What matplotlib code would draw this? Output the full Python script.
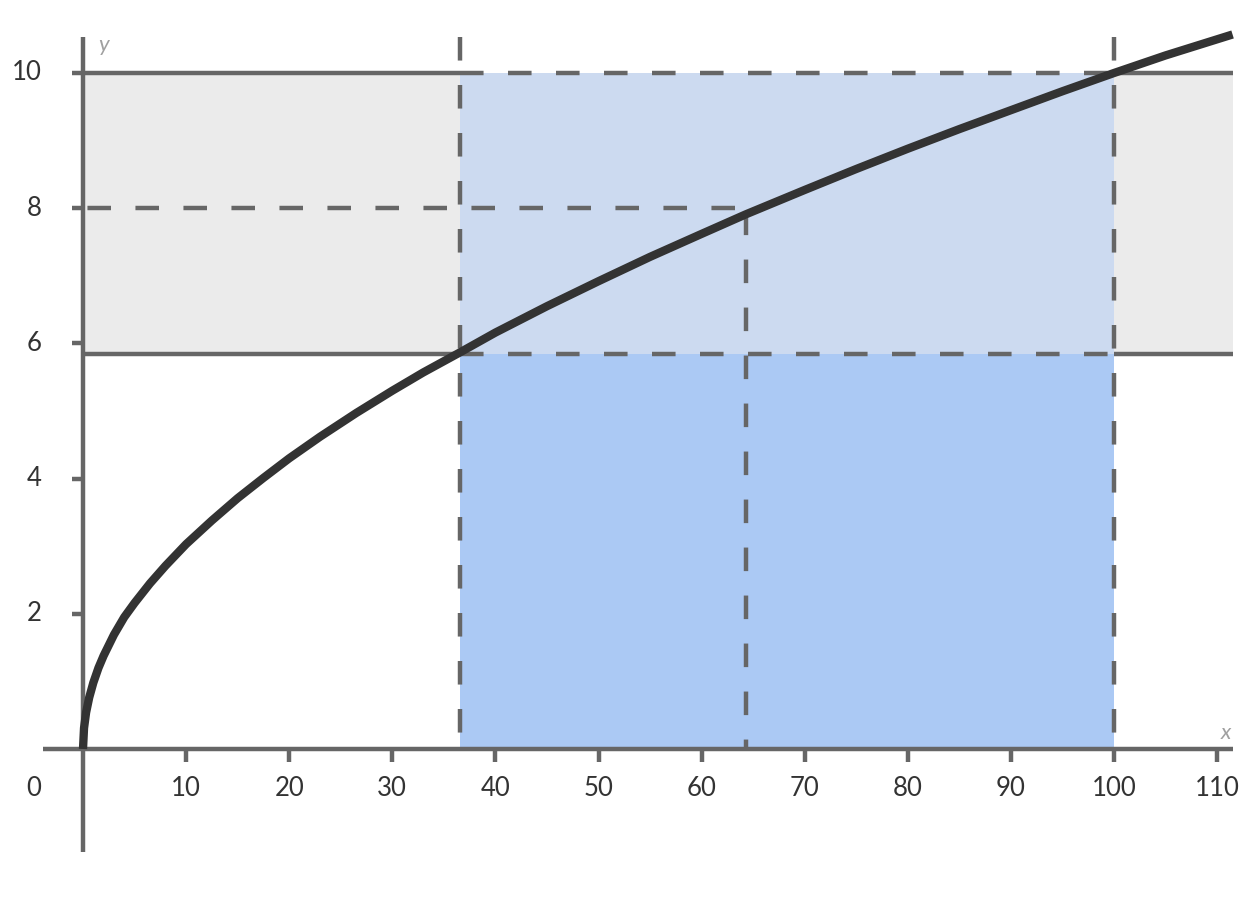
import matplotlib
matplotlib.use("Agg")
import matplotlib.pyplot as plt

# ---- data ----
curve_x = [0, 0.1, 0.3, 0.6, 1, 1.5, 2, 3, 4, 5, 6.5, 8, 10, 12.5, 15, 17.5, 20, 23, 26.5,
           30, 33, 36.6, 40, 45, 50, 55, 60, 64.3, 70, 75, 80, 85, 90, 95, 100, 105, 111.5]
curve_y = [0, 0.31, 0.54, 0.76, 0.98, 1.2, 1.38, 1.69, 1.95, 2.16, 2.45, 2.71, 3.03, 3.38,
           3.71, 4.01, 4.30, 4.62, 4.97, 5.30, 5.57, 5.87, 6.16, 6.55, 6.92, 7.28, 7.62, 7.91,
           8.27, 8.58, 8.88, 9.17, 9.45, 9.73, 10.0, 10.26, 10.57]

x_ticks = [10, 20, 30, 40, 50, 60, 70, 80, 90, 100, 110]
y_ticks = [2, 4, 6, 8, 10]

y_upper = 10.0
y_lower = 5.84
x_left = 36.6
x_right = 100.0
x_mid = 64.3
y_mid = 8.0
x_end = 111.5
y_top = 10.53

LINE = "#666666"
CURVE = "#333333"
TEXT = "#333333"
GRAY_BAND = "#ebebeb"
LIGHT_BLUE = "#ccdaf0"
BLUE = "#abc9f4"

plt.rcParams['font.family'] = ['Lato', 'DejaVu Sans']

PX_X = 10.31   # pixels per x unit
PX_Y = 67.6    # pixels per y unit

fig = plt.figure(figsize=(12.51, 8.99), dpi=100)
ax = fig.add_axes([0, 0, 1, 1])
ax.set_xlim(-83 / PX_X, (1251 - 83) / PX_X)
ax.set_ylim((749 - 899) / PX_Y, 749 / PX_Y)
ax.axis('off')

# fills
ax.fill_between([0, x_end], y_lower, y_upper, color=GRAY_BAND, lw=0, zorder=1)
ax.fill_between([x_left, x_right], y_lower, y_upper, color=LIGHT_BLUE, lw=0, zorder=2)
ax.fill_between([x_left, x_right], 0, y_lower, color=BLUE, lw=0, zorder=2)

lw = 3.2
dash = (0, (5.3, 5.5))

# axes lines
ax.plot([-3.9, x_end], [0, 0], color=LINE, lw=lw, zorder=4, solid_capstyle='butt')
ax.plot([0, 0], [-1.52, y_top], color=LINE, lw=lw, zorder=4, solid_capstyle='butt')

# horizontal solid / dashed band lines
for yv in (y_upper, y_lower):
    ax.plot([-0.2, x_left], [yv, yv], color=LINE, lw=lw, zorder=4, solid_capstyle='butt')
    ax.plot([x_right, x_end], [yv, yv], color=LINE, lw=lw, zorder=4, solid_capstyle='butt')
    ax.plot([x_left, x_right], [yv, yv], color=LINE, lw=lw, ls=dash, zorder=4,
            dash_capstyle='butt')

# vertical dashed lines
for xv in (x_left, x_right):
    ax.plot([xv, xv], [y_top, 0], color=LINE, lw=lw, ls=dash, zorder=4, dash_capstyle='butt')
ax.plot([x_mid, x_mid], [y_mid, 0], color=LINE, lw=lw, ls=(10, (5.3, 5.5)), zorder=4,
        dash_capstyle='butt')
ax.plot([0, x_mid], [y_mid, y_mid], color=LINE, lw=lw, ls=(-1, (5.3, 5.5)), zorder=4,
        dash_capstyle='butt')

# curve
ax.plot(curve_x, curve_y, color=CURVE, lw=6.0, zorder=6, solid_capstyle='butt',
        solid_joinstyle='round')

# ticks
for t in x_ticks:
    ax.plot([t, t], [0, -13 / PX_Y], color=LINE, lw=lw, zorder=4, solid_capstyle='butt')
    ax.text(t, -39 / PX_Y, str(t), ha='center', va='center', fontsize=18.5, color=TEXT)
for t in y_ticks:
    ax.plot([-11 / PX_X, 0], [t, t], color=LINE, lw=lw, zorder=4, solid_capstyle='butt')
    ax.text(-41 / PX_X, t, str(t), ha='right', va='center', fontsize=18.5, color=TEXT)
ax.text(-49 / PX_X, -39 / PX_Y, "0", ha='center', va='center', fontsize=18.5, color=TEXT)

# axis names
ax.text(21 / PX_X, (749 - 45) / PX_Y, "y", ha='center', va='center', fontsize=16,
        color="#a0a0a0", style='italic')
ax.text((1226 - 83) / PX_X, (749 - 733) / PX_Y, "x", ha='center', va='center', fontsize=16,
        color="#a0a0a0", style='italic')

fig.savefig("out.png", dpi=100)
